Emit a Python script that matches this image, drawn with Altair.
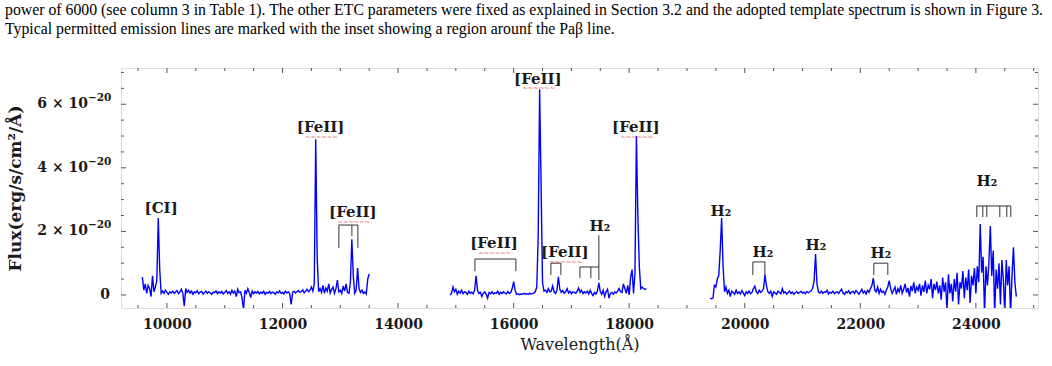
import altair as alt
import pandas as pd

# ---- Spectrum: three wavelength windows, flux in units of 1e-20 erg/s/cm^2/Å ----
SEG1_START, SEG1_STEP = 9575, 25
seg1_flux = [
    0.56, 0.15, 0.35, 0.05, 0.30, 0.20, -0.05, 0.60, 0.10, 0.25,
    0.45, 2.42, 0.80, 0.05, 0.12, 0.05, 0.15, 0.08, 0.02, 0.10,
    0.06, 0.12, 0.05, 0.09, 0.14, 0.04, 0.10, 0.18, 0.05, -0.35,
    0.20, 0.08, 0.15, 0.06, 0.12, 0.02, 0.10, 0.07, 0.13, 0.04,
    0.09, 0.11, 0.03, 0.08, 0.12, 0.05, 0.10, 0.06, 0.02, 0.09,
    0.07, 0.13, 0.04, 0.10, 0.06, 0.11, 0.03, 0.08, 0.14, 0.05,
    0.10, 0.02, 0.15, 0.06, 0.12, -0.05, 0.18, 0.07, 0.10, -0.10,
    -0.45, 0.15, 0.05, 0.20, 0.08, -0.08, 0.12, 0.04, 0.10, 0.06,
    0.11, 0.03, 0.09, 0.05, 0.12, 0.02, 0.08, 0.06, 0.11, 0.04,
    0.09, 0.07, 0.02, 0.10, 0.06, 0.13, 0.05, 0.08, 0.03, 0.12,
    0.06, 0.10, 0.04, -0.30, 0.08, 0.12, 0.06, 0.10, 0.14, 0.08,
    0.11, 0.16, 0.07, 0.12, 0.18, 0.10, 0.15, 0.25, 0.12, 0.35,
    4.90, 1.20, 0.10, 0.20, 0.08, 0.30, 0.05, 0.22, 0.12, 0.35,
    0.06, 0.18, 0.25, 0.05, 0.20, 0.47, 0.10, 0.15, 0.05, 0.28,
    0.12, 0.35, 0.08, 0.05, 0.40, 1.75, 0.60, 0.05, 0.15, 0.85,
    0.20, 0.08, 0.15, 0.05, 0.10, 0.03, 0.50, 0.66,
]

SEG2_START, SEG2_STEP = 14900, 25
seg2_flux = [
    0.00, 0.05, 0.25, 0.10, 0.18, 0.02, 0.12, 0.06, 0.15, 0.04,
    0.10, 0.08, 0.02, 0.12, 0.05, 0.09, 0.04, 0.15, 0.60, 0.15,
    0.05, 0.08, -0.05, 0.06, 0.10, 0.02, -0.10, 0.08, 0.04, 0.10,
    0.03, 0.07, 0.05, 0.12, 0.02, 0.09, 0.04, 0.10, 0.06, 0.03,
    0.11, 0.05, 0.08, 0.20, 0.42, 0.15, 0.02, 0.04, 0.01, 0.03,
    0.02, 0.05, 0.03, 0.04, 0.02, 0.05, 0.03, 0.04, 0.06, 0.10,
    0.25, 1.80, 6.47, 3.50, 0.40, 0.12, 0.15, 0.08, 0.20, 0.10,
    0.12, 0.28, 0.10, 0.05, 0.15, 0.57, 0.18, 0.08, 0.14, 0.05,
    0.10, 0.20, 0.06, 0.12, 0.04, 0.10, 0.08, 0.05, 0.12, 0.22,
    0.08, 0.15, 0.04, 0.10, 0.06, 0.12, 0.03, 0.15, 0.05, -0.02,
    0.08, 0.03, 0.12, 0.38, 0.10, 0.02, 0.15, -0.05, 0.10, 0.18,
    -0.10, 0.05, 0.08, 0.02, 0.10, 0.06, 0.12, 0.20, 0.10, 0.08,
    0.35, 0.20, 0.05, 0.30, 0.00, 0.57, 0.80, 0.05, 0.70, 5.00,
    2.50, 0.90, 0.20, 0.25, 0.20, 0.18, 0.19,
]

SEG3_START, SEG3_STEP = 19400, 25
seg3_flux = [
    -0.10, -0.12, -0.10, 0.30, 0.25, 0.50, 0.60, 1.40, 2.42, 0.90,
    0.10, 0.25, 0.05, 0.15, -0.05, 0.12, 0.08, 0.02, 0.15, 0.05,
    0.10, 0.03, 0.14, 0.06, -0.02, 0.10, 0.05, 0.12, 0.04, 0.08,
    0.20, 0.28, 0.10, 0.05, 0.15, 0.08, 0.12, 0.20, 0.63, 0.30,
    0.10, 0.05, 0.12, -0.05, 0.10, 0.06, 0.02, 0.12, 0.08, 0.04,
    0.20, 0.06, 0.10, 0.03, 0.08, 0.12, 0.05, 0.09, 0.02, 0.07,
    0.10, 0.05, 0.08, 0.12, 0.06, 0.09, 0.04, 0.11, 0.07, 0.10,
    0.13, 0.20, 0.45, 1.29, 0.35, 0.10, 0.06, 0.12, 0.05, 0.10,
    0.08, 0.15, 0.03, 0.09, 0.06, 0.12, 0.04, 0.08, 0.10, 0.05,
    0.12, 0.18, 0.06, 0.02, 0.10, 0.07, 0.13, 0.04, 0.09, 0.11,
    0.05, 0.14, 0.08, 0.02, 0.10, 0.18, 0.06, 0.12, 0.03, 0.15,
    0.08, 0.20, 0.30, 0.53, 0.15, 0.10, 0.25, 0.05, 0.18, 0.08,
    0.12, 0.02, 0.15, 0.25, 0.45, 0.20, 0.05, 0.15, 0.25, 0.02,
    0.20, 0.10, 0.30, 0.05, 0.18, 0.35, 0.08, 0.22, -0.05, 0.28,
    0.12, 0.40, 0.05, 0.25, 0.15, 0.35, -0.02, 0.30, 0.10, 0.45,
    0.05, 0.30, 0.18, 0.50, -0.10, 0.35, 0.15, 0.42, 0.05, 0.30,
    -0.15, 0.55, 0.10, 0.40, -0.50, 0.65, 0.05, 0.35, -0.20, 0.50,
    0.10, 0.70, -0.30, 0.40, 0.20, 0.75, -0.10, 0.55, 0.15, 0.80,
    -0.25, 0.60, 0.30, 0.85, 0.05, 0.90, 0.40, 2.23, 0.70, 1.20,
    -0.60, 0.90, 0.30, 1.00, 2.17, 0.60, 1.40, -0.60, 0.80, 0.20,
    1.00, -0.30, 1.10, 0.50, -0.60, 1.10, 0.30, 0.90, -0.60, 0.60,
    1.50, 0.40, -0.05,
]

# ---- Line identifications ----
label_text = ["[CI]", "[FeII]", "[FeII]", "[FeII]", "[FeII]", "[FeII]", "[FeII]",
              "H₂", "H₂", "H₂", "H₂", "H₂", "H₂"]
label_wl = [9900, 12660, 13218, 15660, 16420, 16887, 18116,
            17493, 19587, 20313, 21230, 22355, 24190]
label_flux = [2.73, 5.27, 2.60, 1.63, 6.80, 1.35, 5.27,
              2.17, 2.64, 1.35, 1.57, 1.32, 3.58]

# bracket segments (wavelength from/to, flux from/to)
br_x1 = [12976, 12976, 13201, 13305,
         15330, 15330, 16039,
         16645, 16645, 16818,
         17147, 17147, 17337, 17475,
         20140, 20140, 20348,
         22234, 22234, 22476,
         24016, 24016, 24120, 24189, 24414, 24535, 24604]
br_x2 = [13305, 12976, 13201, 13305,
         16039, 15330, 16039,
         16818, 16645, 16818,
         17475, 17147, 17337, 17475,
         20348, 20140, 20348,
         22476, 22234, 22476,
         24604, 24016, 24120, 24189, 24414, 24535, 24604]
br_y1 = [2.20, 2.20, 2.20, 2.20,
         1.13, 1.13, 1.13,
         1.00, 1.00, 1.00,
         0.88, 0.88, 0.88, 1.88,
         1.04, 1.04, 1.04,
         1.00, 1.00, 1.00,
         2.80, 2.80, 2.80, 2.80, 2.80, 2.80, 2.80]
br_y2 = [2.20, 1.48, 1.85, 1.48,
         1.13, 0.75, 0.75,
         1.00, 0.63, 0.63,
         0.88, 0.53, 0.53, 0.47,
         1.04, 0.63, 0.63,
         1.00, 0.63, 0.63,
         2.80, 2.45, 2.45, 2.45, 2.45, 2.45, 2.45]

# ---- Frame ticks and y tick labels ----
x_major = [10000, 12000, 14000, 16000, 18000, 20000, 22000, 24000]
x_minor = [9500, 10500, 11000, 11500, 12500, 13000, 13500, 14500, 15000,
           15500, 16500, 17000, 17500, 18500, 19000, 19500, 20500, 21000,
           21500, 22500, 23000, 23500, 24500, 25000]
y_major = [0, 2, 4, 6]
y_minor = [0.5, 1, 1.5, 2.5, 3, 3.5, 4.5, 5, 5.5, 6.5, 7]
y_mant_vals = [2, 4, 6]
y_mant_text = ["2 × 10", "4 × 10", "6 × 10"]
y_exp_text = ["−20", "−20", "−20"]

X_DOMAIN = [9205, 25075]
Y_DOMAIN = [-0.41, 7.14]
W, H = 917, 240

caption = [
    "power of 6000 (see column 3 in Table 1). The other ETC parameters were fixed as explained in Section 3.2 and the adopted template spectrum is shown in Figure 3.",
    "Typical permitted emission lines are marked with the inset showing a region arounf the Paβ line.",
]

rows = []
for seg, (start, step, vals) in enumerate([(SEG1_START, SEG1_STEP, seg1_flux),
                                           (SEG2_START, SEG2_STEP, seg2_flux),
                                           (SEG3_START, SEG3_STEP, seg3_flux)]):
    for i, v in enumerate(vals):
        rows.append({"w": start + step * i, "f": v, "seg": seg})
spec = pd.DataFrame(rows)

labels = pd.DataFrame({"t": label_text, "w": label_wl, "f": label_flux})
fe_labels = labels[labels["t"] == "[FeII]"].assign(s="~~~~~~")
brackets = pd.DataFrame({"x1": br_x1, "x2": br_x2, "y1": br_y1, "y2": br_y2})
ylab = pd.DataFrame({"f": y_mant_vals, "m": y_mant_text, "e": y_exp_text})
yzero = pd.DataFrame({"f": [0], "m": ["0"]})

xs = alt.Scale(domain=X_DOMAIN, nice=False, zero=False)
ys = alt.Scale(domain=Y_DOMAIN, nice=False, zero=False)

SERIF = "DejaVu Serif"
INK = "#1a1a1a"
FRAME = "#555555"

x_axis = alt.Axis(values=x_major, format="d", ticks=False, domain=False, grid=False,
                  labelFont=SERIF, labelFontWeight="bold", labelFontSize=14,
                  labelColor=INK, labelPadding=9,
                  title="Wavelength(Å)", titleFont=SERIF, titleFontWeight="normal",
                  titleFontSize=16, titleColor=INK, titlePadding=5)
y_axis = alt.Axis(values=y_major, ticks=False, domain=False, grid=False, labels=False,
                  title="Flux(erg/s/cm²/Å)", titleFont=SERIF, titleFontWeight="bold",
                  titleFontSize=17, titleColor=INK, titlePadding=97)

line = alt.Chart(spec).mark_line(color="#0000ff", strokeWidth=1.4, clip=True).encode(
    x=alt.X("w:Q", scale=xs, axis=x_axis),
    y=alt.Y("f:Q", scale=ys, axis=y_axis),
    detail="seg:N",
    order="w:Q",
)

br = alt.Chart(brackets).mark_rule(color="#333333", strokeWidth=1).encode(
    x=alt.X("x1:Q", scale=xs), x2="x2:Q",
    y=alt.Y("y1:Q", scale=ys), y2="y2:Q",
)

txt = alt.Chart(labels).mark_text(font=SERIF, fontWeight="bold", fontSize=15,
                                  color=INK, baseline="middle", align="center").encode(
    x=alt.X("w:Q", scale=xs), y=alt.Y("f:Q", scale=ys), text="t:N",
)

# red wavy underline beneath the "FeII" labels
squiggle = alt.Chart(fe_labels).mark_text(font="DejaVu Sans", fontSize=6.5,
                                          color="#e02020", baseline="middle",
                                          align="center", dy=9.5, dx=1).encode(
    x=alt.X("w:Q", scale=xs), y=alt.Y("f:Q", scale=ys), text="s:N",
)

# y tick labels typeset as mantissa × 10 with a raised exponent
ymant = alt.Chart(ylab).mark_text(font=SERIF, fontWeight="bold", fontSize=14, color=INK,
                                  align="right", baseline="middle").encode(
    y=alt.Y("f:Q", scale=ys), x=alt.value(-33), text="m:N")
yexp = alt.Chart(ylab).mark_text(font=SERIF, fontWeight="bold", fontSize=10.5, color=INK,
                                 align="left", baseline="middle", dy=-6).encode(
    y=alt.Y("f:Q", scale=ys), x=alt.value(-33), text="e:N")
y0 = alt.Chart(yzero).mark_text(font=SERIF, fontWeight="bold", fontSize=14, color=INK,
                                align="right", baseline="middle").encode(
    y=alt.Y("f:Q", scale=ys), x=alt.value(-11), text="m:N")


def xticks(vals, size):
    d = pd.DataFrame({"w": vals})
    bottom = alt.Chart(d).mark_rule(color=FRAME, strokeWidth=1).encode(
        x=alt.X("w:Q", scale=xs), y=alt.value(H), y2=alt.value(H - size))
    top = alt.Chart(d).mark_rule(color=FRAME, strokeWidth=1).encode(
        x=alt.X("w:Q", scale=xs), y=alt.value(0), y2=alt.value(size))
    return [bottom, top]


def yticks(vals, size):
    d = pd.DataFrame({"f": vals})
    left = alt.Chart(d).mark_rule(color=FRAME, strokeWidth=1).encode(
        y=alt.Y("f:Q", scale=ys), x=alt.value(0), x2=alt.value(size))
    right = alt.Chart(d).mark_rule(color=FRAME, strokeWidth=1).encode(
        y=alt.Y("f:Q", scale=ys), x=alt.value(W), x2=alt.value(W - size))
    return [left, right]


tick_layers = xticks(x_major, 5) + xticks(x_minor, 3) + yticks(y_major, 5) + yticks(y_minor, 3)

chart = alt.layer(line, br, squiggle, txt, ymant, yexp, y0, *tick_layers).properties(
    width=W, height=H,
    autosize=alt.AutoSizeParams(type="none"),
    padding={"left": 121, "top": 68, "right": 14, "bottom": 58},
    title=alt.TitleParams(text=caption, anchor="start", frame="group", dx=-116,
                          offset=30, font="Liberation Serif", fontSize=15.8,
                          fontWeight="normal", color="black", lineHeight=19),
).configure_view(stroke=FRAME, strokeWidth=1).configure(background="white")

chart.save("out.html", embed_options={"renderer": "svg", "actions": False})
